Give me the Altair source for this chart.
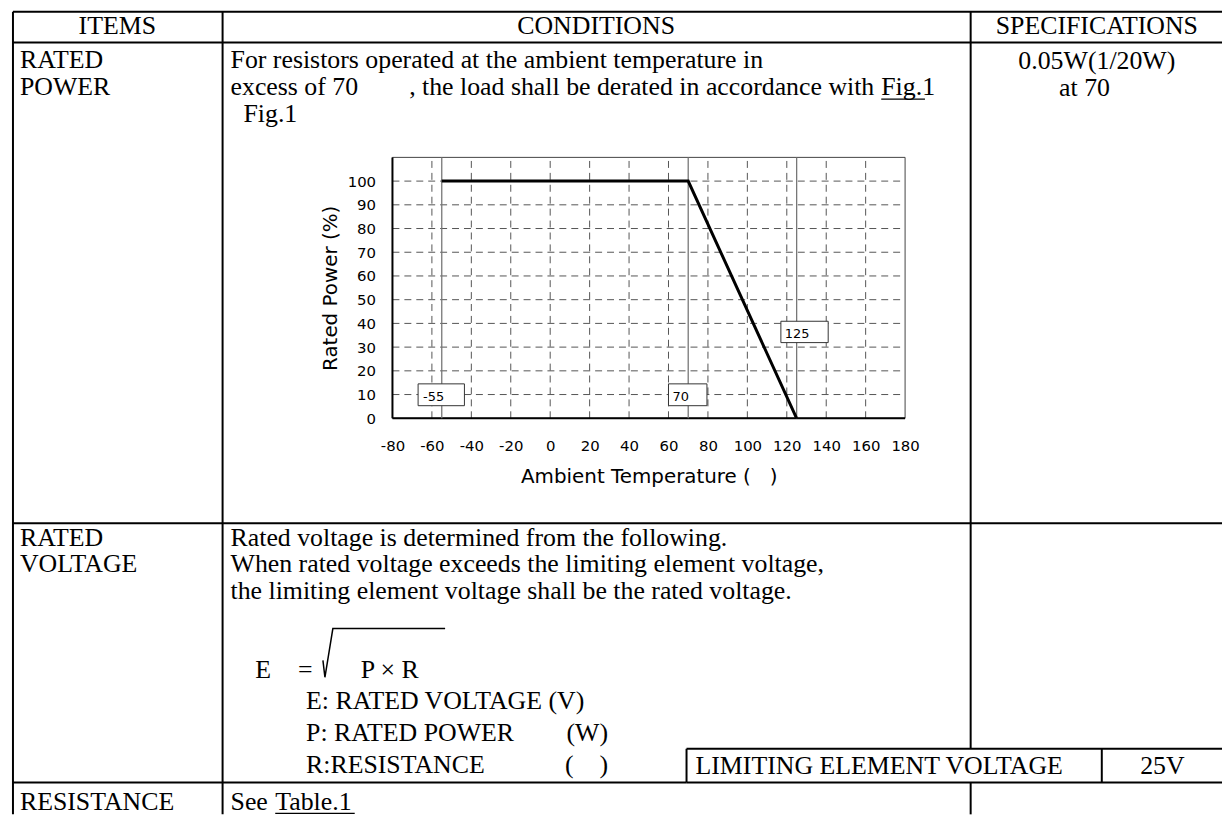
import altair as alt
import pandas as pd

NB = "\u00a0"

# ---------------- derating chart values ----------------
temperature = [-55, 70, 125]
rated_power = [100, 100, 0]
x_tick_values = [-80, -60, -40, -20, 0, 20, 40, 60, 80, 100, 120, 140, 160, 180]
y_tick_values = [0, 10, 20, 30, 40, 50, 60, 70, 80, 90, 100]
grid_temps = [-60, -40, -20, 0, 20, 40, 60, 80, 100, 120, 140, 160]
grid_powers = [10, 20, 30, 40, 50, 60, 70, 80, 90, 100]
marker_temps = [-55, 70, 125]
marker_labels = ["-55", "70", "125"]
x_domain = [-80, 180]
y_domain = [0, 110]

# marker label boxes (in data units)
label_box_x0 = [-67, 60, 117]
label_box_x1 = [-43.5, 79.5, 141]
label_box_y0 = [5.3, 5.3, 31.9]
label_box_y1 = [14.5, 14.5, 40.9]
label_text_x = [-64.5, 62, 119]
label_text_y = [9, 9, 35.5]

# ---------------- table texts ----------------
left_texts = [
    "RATED", "POWER",
    "For resistors operated at the ambient temperature in",
    "excess of 70", "Fig.1", "Fig.1", "at 70",
    "RATED", "VOLTAGE",
    "Rated voltage is determined from the following.",
    "When rated voltage exceeds the limiting element voltage,",
    "the limiting element voltage shall be the rated voltage.",
    "E", "=", "P \u00d7 R",
    "E: RATED VOLTAGE (V)",
    "P: RATED POWER",
    "R:RESISTANCE",
    "LIMITING ELEMENT VOLTAGE",
    "RESISTANCE", "See", "Table.1",
]
left_x = [20, 20, 232, 232, 887, 245, 1066, 20, 20, 232, 232, 232,
          257, 300, 363, 308, 308, 308, 700, 20, 232, 277]
left_y = [58, 85, 58, 85, 85, 112, 86, 539, 565.5, 539, 565.5, 592,
          672, 672, 672, 703, 735, 767, 768, 805, 805, 805]

center_texts = ["ITEMS", "CONDITIONS", "SPECIFICATIONS", "0.05W(1/20W)", "25V"]
center_x = [118, 600, 1104, 1104, 1170]
center_y = [24, 24, 24, 59, 768]

right_texts = [", the load shall be derated in accordance with", "(W)", "(" + NB * 4 + ")"]
right_x = [880, 612, 612]
right_y = [85, 735, 767]

# table rules (reference pixel coordinates)
h_x0 = [13, 13, 13, 13, 691, 691, 887, 277]
h_x1 = [1230, 1230, 1230, 691, 1230, 1230, 931, 357]
h_y = [9, 40, 524, 785, 751, 785, 97, 816]
h_w = [2, 2, 2, 2, 2, 2, 1, 1]

v_x = [13, 224, 977, 977, 691, 1109]
v_y0 = [9, 9, 9, 785, 751, 751]
v_y1 = [817, 817, 751, 817, 785, 785]

radical_x = [325, 327, 335, 448]
radical_y = [662, 679, 630, 630]

# ---------------- scales ----------------
PAD = 8
W, H = 1230 - PAD, 817 - PAD
XP = alt.Scale(domain=[PAD, 1230], range=[0, W], nice=False, zero=False)
YP = alt.Scale(domain=[PAD, 817], range=[0, H], nice=False, zero=False)
plot_left, plot_right = 395 - PAD, 911 - PAD
plot_bottom, plot_top = 418.3 - PAD, 155.7 - PAD
XD = alt.Scale(domain=x_domain, range=[plot_left, plot_right], nice=False, zero=False)
YD = alt.Scale(domain=y_domain, range=[plot_bottom, plot_top], nice=False, zero=False)

SERIF = "Liberation Serif"
SANS = "DejaVu Sans"
FS = 26

# ---------------- table layers ----------------
hdf = pd.DataFrame({"x": h_x0, "x2": h_x1, "y": h_y, "w": h_w})
h_thick = alt.Chart(hdf[hdf.w == 2]).mark_rule(color="black", strokeWidth=2).encode(
    x=alt.X("x:Q", scale=XP, axis=None), x2="x2:Q", y=alt.Y("y:Q", scale=YP, axis=None))
h_thin = alt.Chart(hdf[hdf.w == 1]).mark_rule(color="black", strokeWidth=1.2).encode(
    x=alt.X("x:Q", scale=XP, axis=None), x2="x2:Q", y=alt.Y("y:Q", scale=YP, axis=None))

vdf = pd.DataFrame({"x": v_x, "y": v_y0, "y2": v_y1})
v_lines = alt.Chart(vdf).mark_rule(color="black", strokeWidth=2).encode(
    x=alt.X("x:Q", scale=XP, axis=None), y=alt.Y("y:Q", scale=YP, axis=None), y2="y2:Q")

rdf = pd.DataFrame({"x": radical_x, "y": radical_y, "o": list(range(len(radical_x)))})
radical = alt.Chart(rdf).mark_line(color="black", strokeWidth=1.5).encode(
    x=alt.X("x:Q", scale=XP, axis=None), y=alt.Y("y:Q", scale=YP, axis=None), order="o:Q")


def text_layer(texts, xs, ys, align):
    df = pd.DataFrame({"t": texts, "x": xs, "y": ys})
    return alt.Chart(df).mark_text(align=align, baseline="middle", font=SERIF,
                                   fontSize=FS, color="black").encode(
        x=alt.X("x:Q", scale=XP, axis=None), y=alt.Y("y:Q", scale=YP, axis=None), text="t:N")


t_left = text_layer(left_texts, left_x, left_y, "left")
t_center = text_layer(center_texts, center_x, center_y, "center")
t_right = text_layer(right_texts, right_x, right_y, "right")

# ---------------- derating chart layers ----------------
gv = pd.DataFrame({"x": grid_temps, "y": [y_domain[0]] * len(grid_temps),
                   "y2": [y_domain[1]] * len(grid_temps)})
grid_v = alt.Chart(gv).mark_rule(color="#555", strokeWidth=1, strokeDash=[7, 5]).encode(
    x=alt.X("x:Q", scale=XD, axis=None), y=alt.Y("y:Q", scale=YD, axis=None), y2="y2:Q")
gh = pd.DataFrame({"y": grid_powers, "x": [x_domain[0]] * len(grid_powers),
                   "x2": [x_domain[1]] * len(grid_powers)})
grid_h = alt.Chart(gh).mark_rule(color="#555", strokeWidth=1, strokeDash=[7, 5]).encode(
    x=alt.X("x:Q", scale=XD, axis=None), x2="x2:Q", y=alt.Y("y:Q", scale=YD, axis=None))

bdf = pd.DataFrame({"x": [x_domain[0]], "x2": [x_domain[1]], "y": [y_domain[0]], "y2": [y_domain[1]]})
box = alt.Chart(bdf).mark_rect(fill=None, stroke="#444", strokeWidth=1).encode(
    x=alt.X("x:Q", scale=XD, axis=None), x2="x2:Q", y=alt.Y("y:Q", scale=YD, axis=None), y2="y2:Q")
left_edge = alt.Chart(bdf).mark_rule(color="black", strokeWidth=2).encode(
    x=alt.X("x:Q", scale=XD, axis=None), y=alt.Y("y:Q", scale=YD, axis=None), y2="y2:Q")
bottom_edge = alt.Chart(bdf).mark_rule(color="black", strokeWidth=2).encode(
    x=alt.X("x:Q", scale=XD, axis=None), x2="x2:Q", y=alt.Y("y:Q", scale=YD, axis=None))

mdf = pd.DataFrame({"x": marker_temps, "y": [y_domain[0]] * 3, "y2": [y_domain[1]] * 3})
markers = alt.Chart(mdf).mark_rule(color="#777", strokeWidth=1.3).encode(
    x=alt.X("x:Q", scale=XD, axis=None), y=alt.Y("y:Q", scale=YD, axis=None), y2="y2:Q")

ldf = pd.DataFrame({"x": label_box_x0, "x2": label_box_x1, "y": label_box_y0, "y2": label_box_y1,
                    "tx": label_text_x, "ty": label_text_y, "t": marker_labels})
label_boxes = alt.Chart(ldf).mark_rect(fill="white", stroke="#333", strokeWidth=1).encode(
    x=alt.X("x:Q", scale=XD, axis=None), x2="x2:Q", y=alt.Y("y:Q", scale=YD, axis=None), y2="y2:Q")
label_texts = alt.Chart(ldf).mark_text(align="left", baseline="middle", font=SANS, fontSize=13,
                                       color="black").encode(
    x=alt.X("tx:Q", scale=XD, axis=None), y=alt.Y("ty:Q", scale=YD, axis=None), text="t:N")

cdf = pd.DataFrame({"temp": temperature, "power": rated_power})
x_axis = alt.Axis(orient="bottom", offset=-(H - plot_bottom), values=x_tick_values,
                  labelExpr="'' + datum.value",
                  ticks=False, tickSize=0, domain=False, grid=False, labelFont=SANS, labelFontSize=15,
                  labelColor="black", labelPadding=20, labelFlush=False, labelOverlap=False,
                  title="Ambient Temperature (" + NB * 3 + ")", titleFont=SANS, titleFontSize=20,
                  titleFontWeight="normal", titleColor="black", titleY=59, titleBaseline="middle")
y_axis = alt.Axis(orient="left", offset=-plot_left, values=y_tick_values,
                  labelExpr="'' + datum.value",
                  ticks=False, tickSize=0, domain=False, grid=False, labelFont=SANS, labelFontSize=15,
                  labelColor="black", labelPadding=17, labelFlush=False, labelOverlap=False,
                  title="Rated Power (%)", titleFont=SANS, titleFontSize=20,
                  titleFontWeight="normal", titleColor="black", titleX=-62, titleBaseline="middle")
curve = alt.Chart(cdf).mark_line(color="black", strokeWidth=3).encode(
    x=alt.X("temp:Q", scale=XD, axis=x_axis), y=alt.Y("power:Q", scale=YD, axis=y_axis))

chart = alt.layer(
    grid_v, grid_h, box, left_edge, bottom_edge, markers, label_boxes, label_texts, curve,
    h_thick, h_thin, v_lines, radical, t_left, t_center, t_right,
).resolve_scale(x="independent", y="independent").properties(
    width=W, height=H, padding=0, autosize=alt.AutoSizeParams(type="none"), background="white"
).configure_view(stroke=None)

chart.save("out.html", embed_options={"renderer": "svg", "actions": False})
